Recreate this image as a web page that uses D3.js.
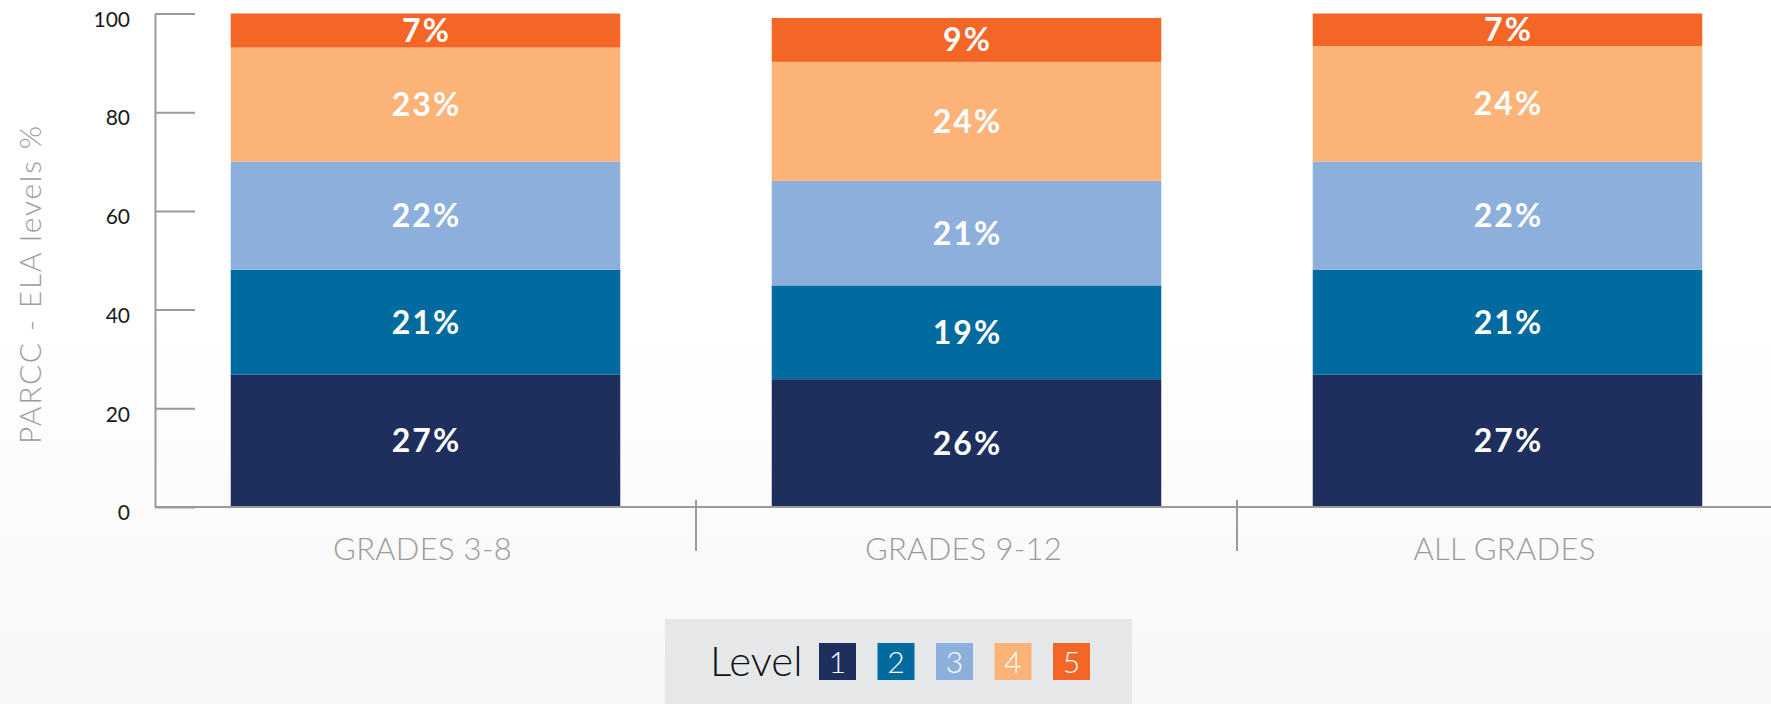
<!DOCTYPE html>
<html>
<head>
<meta charset="utf-8">
<script src="https://cdn.jsdelivr.net/npm/d3@7"></script>
<style>
  html, body { margin: 0; padding: 0; }
  body { width: 1771px; height: 704px; overflow: hidden; }
  svg { display: block; font-family: Lato, "Open Sans", sans-serif; }
</style>
</head>
<body>
<svg id="chart" width="1771" height="704"></svg>
<script>
// ---- data ----
const categories = ["GRADES 3-8", "GRADES 9-12", "ALL GRADES"];
const levels = ["1", "2", "3", "4", "5"];
const level1 = [26.8, 25.9, 26.8];
const level2 = [21.3, 19.0, 21.3];
const level3 = [21.9, 21.2, 21.9];
const level4 = [23.1, 24.1, 23.4];
const level5 = [6.9, 8.9, 6.6];
const level1Labels = ["27%", "26%", "27%"];
const level2Labels = ["21%", "19%", "21%"];
const level3Labels = ["22%", "21%", "22%"];
const level4Labels = ["23%", "24%", "24%"];
const level5Labels = ["7%", "9%", "7%"];
const yTicks = [0, 20, 40, 60, 80, 100];
const yTitle = "PARCC - ELA levels %";
const legendTitle = "Level";
const colors = ["#1e2f5e", "#016a9e", "#8dafdc", "#fbb378", "#f36626"];

const seriesValues = [level1, level2, level3, level4, level5];
const seriesLabels = [level1Labels, level2Labels, level3Labels, level4Labels, level5Labels];
const table = categories.map((c, i) => {
  const row = { category: c, i };
  levels.forEach((l, j) => { row[l] = seriesValues[j][i]; });
  return row;
});

// ---- layout ----
const W = 1771, H = 704;
const svg = d3.select("#chart");

const defs = svg.append("defs");
const grad = defs.append("linearGradient").attr("id", "bg").attr("x1", 0).attr("y1", 0).attr("x2", 0).attr("y2", 1);
grad.append("stop").attr("offset", "0").attr("stop-color", "#ffffff");
grad.append("stop").attr("offset", "0.45").attr("stop-color", "#ffffff");
grad.append("stop").attr("offset", "1").attr("stop-color", "#f7f7f7");
svg.append("rect").attr("width", W).attr("height", H).attr("fill", "url(#bg)");

const axisX = 155, baseY = 507, topY = 13.5;
const x = d3.scaleBand().domain(categories).range([axisX, 1778]).paddingInner(0.28).paddingOuter(0.14);
const y = d3.scaleLinear().domain([0, 100]).range([baseY, topY]);

const stacked = d3.stack().keys(levels)(table);

const g = svg.append("g");
stacked.forEach((layer, j) => {
  g.append("g").attr("fill", colors[j])
    .selectAll("rect").data(layer).join("rect")
    .attr("x", d => x(d.data.category))
    .attr("width", x.bandwidth())
    .attr("y", d => y(d[1]))
    .attr("height", d => y(d[0]) - y(d[1]));
  g.append("g")
    .selectAll("text").data(layer).join("text")
    .attr("x", d => x(d.data.category) + x.bandwidth() / 2 + 1)
    .attr("y", d => (y(d[0]) + y(d[1])) / 2)
    .attr("dy", "0.36em")
    .attr("text-anchor", "middle")
    .attr("fill", "#ffffff")
    .attr("font-size", 32)
    .attr("font-weight", 700)
    .attr("letter-spacing", 2)
    .text(d => seriesLabels[j][d.data.i]);
});

// y axis
const yAxis = d3.axisLeft(y).tickValues(yTicks).tickSizeInner(-40).tickSizeOuter(0).tickPadding(25);
const ya = svg.append("g").attr("transform", `translate(${axisX},0)`).call(yAxis);
ya.select(".domain").attr("stroke", "#9a9a9a").attr("stroke-width", 2);
ya.selectAll(".tick line").attr("stroke", "#9a9a9a").attr("stroke-width", 2);
ya.selectAll(".tick text").attr("font-size", 21).attr("fill", "#1a1a1a")
  .attr("font-family", "Lato, sans-serif").attr("transform", "translate(0,6)");

// baseline
svg.append("line").attr("x1", axisX).attr("x2", W).attr("y1", baseY).attr("y2", baseY)
  .attr("stroke", "#9a9a9a").attr("stroke-width", 2);

// category separators
const seps = categories.slice(1).map(c => x(c) - x.step() * x.paddingInner() / 2);
svg.append("g").selectAll("line").data(seps).join("line")
  .attr("x1", d => d).attr("x2", d => d)
  .attr("y1", baseY - 7).attr("y2", baseY + 44)
  .attr("stroke", "#9a9a9a").attr("stroke-width", 2);

// x labels
svg.append("g").selectAll("text").data(categories).join("text")
  .attr("x", d => x(d) + x.bandwidth() / 2 - 3)
  .attr("y", 560)
  .attr("text-anchor", "middle")
  .attr("fill", "#9b9b9b")
  .attr("font-size", 31)
  .attr("font-weight", 300)
  .attr("letter-spacing", 0.3)
  .text(d => d);

// y title
svg.append("text")
  .attr("transform", `translate(41,284) rotate(-90)`)
  .attr("text-anchor", "middle")
  .attr("fill", "#9b9b9b")
  .attr("font-size", 30)
  .attr("font-weight", 300)
  .attr("letter-spacing", 1.8)
  .text(yTitle);

// legend
const lg = svg.append("g");
lg.append("rect").attr("x", 665).attr("y", 619).attr("width", 467).attr("height", 90).attr("fill", "#e6e7e9");
lg.append("text").attr("x", 710).attr("y", 676).attr("font-size", 42).attr("font-weight", 300)
  .attr("fill", "#111").text(legendTitle);
const sw = lg.selectAll("g.sw").data(levels).join("g").attr("class", "sw")
  .attr("transform", (d, i) => `translate(${819 + i * 58.5},643)`);
sw.append("rect").attr("width", 37).attr("height", 37).attr("fill", (d, i) => colors[i]);
sw.append("text").attr("x", 18.5).attr("y", 30).attr("text-anchor", "middle")
  .attr("font-size", 30).attr("font-weight", 300).attr("fill", "#fff").text(d => d);
</script>
</body>
</html>
